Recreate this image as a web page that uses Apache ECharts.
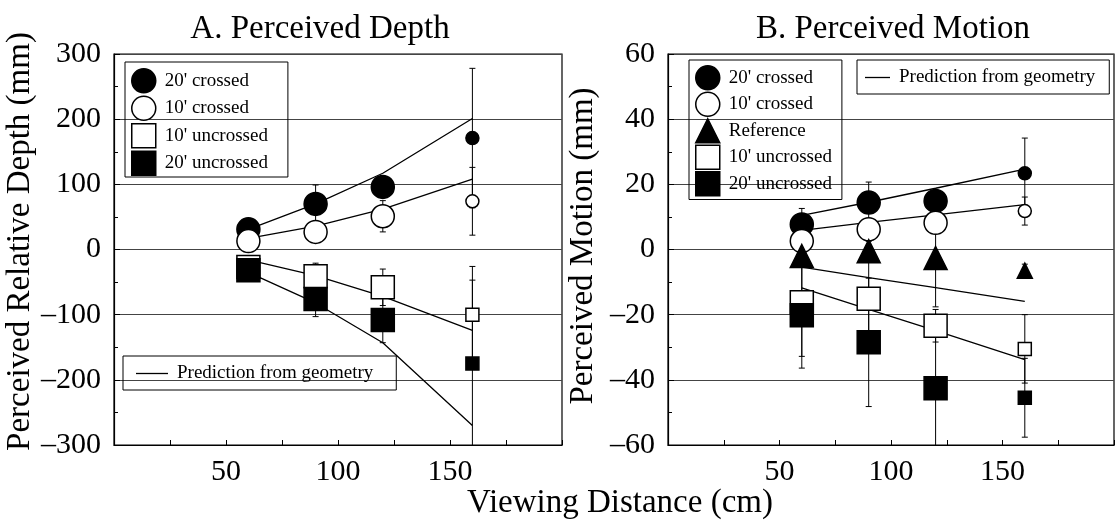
<!DOCTYPE html>
<html>
<head>
<meta charset="utf-8">
<title>Perceived Depth and Motion</title>
<script src="https://cdn.jsdelivr.net/npm/echarts@6/dist/echarts.min.js"></script>
<style>
  html, body { margin: 0; padding: 0; background: #fff; }
  #chart { width: 1117px; height: 522px; }
</style>
</head>
<body>
<div id="chart"></div>
<script>
// viewing distances (cm)
const distances = [60, 90, 120, 160];
const xTickLabels = [50, 100, 150];

// A. perceived relative depth (mm) and half error bars
const depth20Crossed = [31, 70, 96, 171];
const depth20CrossedErr = [5, 29, 15, 107];
const depth10Crossed = [13, 27, 51, 74];
const depth10CrossedErr = [5, 10, 24, 52];
const depth10Uncrossed = [-27, -41, -58, -100];
const depth10UncrossedErr = [8, 20, 28, 74];
const depth20Uncrossed = [-32, -76, -108, -175];
const depth20UncrossedErr = [8, 27, 35, 128];

// A. prediction from geometry
const depthPred20Crossed = [31, 70, 117, 201];
const depthPred10Crossed = [17, 36, 62, 108];
const depthPred10Uncrossed = [-16, -40, -72, -124];
const depthPred20Uncrossed = [-35, -82, -143, -270];

// B. perceived motion (mm) and half error bars
const motion20Crossed = [7.7, 14.4, 14.9, 23.4];
const motion20CrossedErr = [4.9, 6.3, 3, 10.8];
const motion10Crossed = [2.6, 6.2, 8.2, 11.8];
const motion10CrossedErr = [2, 2, 2, 4.3];
const motionReference = [-2, -0.5, -2.6, -6.5];
const motionReferenceErr = [3, 3, 15, 2];
const motion10Uncrossed = [-16.2, -15.1, -23.4, -30.5];
const motion10UncrossedErr = [16.6, 12, 5, 10.5];
const motion20Uncrossed = [-20.2, -28.5, -42.6, -45.5];
const motion20UncrossedErr = [16.2, 19.7, 22, 12.1];

// B. prediction from geometry
const motionPred20Crossed = [10.5, 14.5, 18.8, 24.7];
const motionPred10Crossed = [5.9, 8.3, 10.6, 13.8];
const motionPred10Uncrossed = [-5.4, -8.6, -11.7, -15.9];
const motionPred20Uncrossed = [-11.8, -18.4, -24.9, -33.8];

const FONT = 'Liberation Serif';
const PRED = 'Prediction from geometry';

const markerStyles = {
  "20' crossed": { symbol: 'circle', fill: '#000' },
  "10' crossed": { symbol: 'circle', fill: '#fff' },
  'Reference': { symbol: 'triangle', fill: '#000' },
  "10' uncrossed": { symbol: 'rect', fill: '#fff' },
  "20' uncrossed": { symbol: 'rect', fill: '#000' }
};

function pairs (values) {
  return distances.map((d, i) => [d, values[i]]);
}

function scatterSeries (name, values, panel) {
  const m = markerStyles[name];
  return {
    name: name,
    type: 'scatter',
    xAxisIndex: panel,
    yAxisIndex: panel,
    symbol: m.symbol,
    symbolSize: (val, params) => params.dataIndex === 3 ? (m.symbol === 'triangle' ? 15 : 13) : 23,
    itemStyle: { color: m.fill, borderColor: '#000', borderWidth: 1.5, opacity: 1 },
    silent: true,
    z: 3,
    data: pairs(values)
  };
}

function predictionSeries (values, panel) {
  return {
    name: PRED,
    type: 'line',
    xAxisIndex: panel,
    yAxisIndex: panel,
    symbol: 'none',
    itemStyle: { color: '#000' },
    lineStyle: { color: '#000', width: 1.3 },
    silent: true,
    z: 2,
    data: pairs(values)
  };
}

function errorSeries (values, errs, panel) {
  return {
    type: 'custom',
    xAxisIndex: panel,
    yAxisIndex: panel,
    silent: true,
    z: 1,
    encode: { x: 0, y: [1, 2] },
    data: distances.map((d, i) => [d, values[i] - errs[i], values[i] + errs[i]]),
    renderItem (params, api) {
      const cs = params.coordSys;
      const top = api.coord([api.value(0), api.value(2)]);
      const bot = api.coord([api.value(0), api.value(1)]);
      const x = top[0];
      const y1 = Math.max(top[1], cs.y);
      const y2 = Math.min(bot[1], cs.y + cs.height);
      const style = { stroke: '#000', lineWidth: 1 };
      const children = [{ type: 'line', shape: { x1: x, y1: y1, x2: x, y2: y2 }, style: style }];
      if (top[1] >= cs.y) {
        children.push({ type: 'line', shape: { x1: x - 3, y1: top[1], x2: x + 3, y2: top[1] }, style: style });
      }
      if (bot[1] <= cs.y + cs.height) {
        children.push({ type: 'line', shape: { x1: x - 3, y1: bot[1], x2: x + 3, y2: bot[1] }, style: style });
      }
      return { type: 'group', children: children };
    }
  };
}

function legendItem (name) {
  const m = markerStyles[name];
  return { name: name, icon: m.symbol, itemStyle: { color: m.fill, borderColor: '#000', borderWidth: 1.5 } };
}

// the prediction key is a plain thin stroke
const predLegendItem = { name: PRED, icon: 'rect', itemStyle: { color: '#000', borderWidth: 0 } };

function xAxis (panel) {
  return {
    type: 'value',
    gridIndex: panel,
    min: 0,
    max: 200,
    interval: 25,
    axisLine: { onZero: false, lineStyle: { color: '#000', width: 1.2 } },
    axisTick: { inside: true, length: 5, lineStyle: { color: '#000' } },
    axisLabel: {
      margin: 12,
      fontSize: 30,
      fontFamily: FONT,
      color: '#000',
      formatter: v => xTickLabels.includes(v) ? String(v) : ''
    },
    splitLine: { show: false }
  };
}

function yAxis (panel, min, max, interval, name, gap, shift) {
  return {
    type: 'value',
    gridIndex: panel,
    min: min,
    max: max,
    interval: interval,
    name: name,
    nameLocation: 'middle',
    nameGap: gap,
    nameTextStyle: { fontSize: 33, fontFamily: FONT, color: '#000', padding: [0, 0, 0, shift] },
    axisLine: { onZero: false, lineStyle: { color: '#000', width: 1.2 } },
    axisTick: { inside: true, length: 6, lineStyle: { color: '#000' } },
    minorTick: { show: true, splitNumber: 2, length: 4, lineStyle: { color: '#000' } },
    axisLabel: {
      margin: 13,
      fontSize: 30,
      fontFamily: FONT,
      color: '#000',
      formatter: v => v < 0 ? '\u2013' + (-v) : String(v)
    },
    splitLine: { show: true, lineStyle: { color: '#444', width: 1 } }
  };
}

const legendText = { fontFamily: FONT, fontSize: 19, color: '#000', padding: [0, 0, 0, 4] };

const chart = echarts.init(document.getElementById('chart'));
chart.setOption({
  animation: false,
  backgroundColor: '#fff',
  textStyle: { fontFamily: FONT },
  grid: [
    { left: 114, right: 555, top: 54, bottom: 77, show: true, borderColor: '#000', borderWidth: 1.2 },
    { left: 668, right: 2, top: 54, bottom: 77, show: true, borderColor: '#000', borderWidth: 1.2 }
  ],
  xAxis: [xAxis(0), xAxis(1)],
  yAxis: [
    yAxis(0, -300, 300, 100, 'Perceived Relative Depth (mm)', 77, 16),
    yAxis(1, -60, 60, 20, 'Perceived Motion (mm)', 68, 7)
  ],
  legend: [
    {
      selectedMode: false, orient: 'vertical', left: 125, top: 62,
      itemWidth: 24, itemHeight: 24, itemGap: 2, padding: [6, 20, 1, 6],
      borderColor: '#000', borderWidth: 1, textStyle: legendText,
      data: ["20' crossed", "10' crossed", "10' uncrossed", "20' uncrossed"].map(legendItem)
    },
    {
      selectedMode: false, orient: 'vertical', left: 123, top: 356,
      itemWidth: 32, itemHeight: 1.3, padding: [8, 23, 7, 13],
      borderColor: '#000', borderWidth: 1, textStyle: legendText,
      data: [predLegendItem]
    },
    {
      selectedMode: false, orient: 'vertical', left: 689, top: 60,
      itemWidth: 24, itemHeight: 24, itemGap: 1, padding: [5, 10, 3, 6],
      borderColor: '#000', borderWidth: 1, textStyle: legendText,
      data: ["20' crossed", "10' crossed", 'Reference', "10' uncrossed", "20' uncrossed"].map(legendItem)
    },
    {
      selectedMode: false, orient: 'vertical', left: 857, top: 60,
      itemWidth: 25, itemHeight: 1.3, padding: [8, 14, 7, 8],
      borderColor: '#000', borderWidth: 1, textStyle: legendText,
      data: [predLegendItem]
    }
  ],
  graphic: [
    { type: 'text', x: 320, y: 29, style: { text: 'A. Perceived Depth', fontSize: 33, fontFamily: FONT, fill: '#000', textAlign: 'center', textVerticalAlign: 'middle' } },
    { type: 'text', x: 893, y: 29, style: { text: 'B. Perceived Motion', fontSize: 33, fontFamily: FONT, fill: '#000', textAlign: 'center', textVerticalAlign: 'middle' } },
    { type: 'text', x: 620, y: 503, style: { text: 'Viewing Distance (cm)', fontSize: 33, fontFamily: FONT, fill: '#000', textAlign: 'center', textVerticalAlign: 'middle' } }
  ],
  series: [
    errorSeries(depth20Crossed, depth20CrossedErr, 0),
    errorSeries(depth10Crossed, depth10CrossedErr, 0),
    errorSeries(depth10Uncrossed, depth10UncrossedErr, 0),
    errorSeries(depth20Uncrossed, depth20UncrossedErr, 0),
    predictionSeries(depthPred20Crossed, 0),
    predictionSeries(depthPred10Crossed, 0),
    predictionSeries(depthPred10Uncrossed, 0),
    predictionSeries(depthPred20Uncrossed, 0),
    scatterSeries("20' crossed", depth20Crossed, 0),
    scatterSeries("10' crossed", depth10Crossed, 0),
    scatterSeries("10' uncrossed", depth10Uncrossed, 0),
    scatterSeries("20' uncrossed", depth20Uncrossed, 0),

    errorSeries(motion20Crossed, motion20CrossedErr, 1),
    errorSeries(motion10Crossed, motion10CrossedErr, 1),
    errorSeries(motionReference, motionReferenceErr, 1),
    errorSeries(motion10Uncrossed, motion10UncrossedErr, 1),
    errorSeries(motion20Uncrossed, motion20UncrossedErr, 1),
    predictionSeries(motionPred20Crossed, 1),
    predictionSeries(motionPred10Crossed, 1),
    predictionSeries(motionPred10Uncrossed, 1),
    predictionSeries(motionPred20Uncrossed, 1),
    scatterSeries("20' crossed", motion20Crossed, 1),
    scatterSeries("10' crossed", motion10Crossed, 1),
    scatterSeries('Reference', motionReference, 1),
    scatterSeries("10' uncrossed", motion10Uncrossed, 1),
    scatterSeries("20' uncrossed", motion20Uncrossed, 1)
  ]
});
</script>
</body>
</html>
